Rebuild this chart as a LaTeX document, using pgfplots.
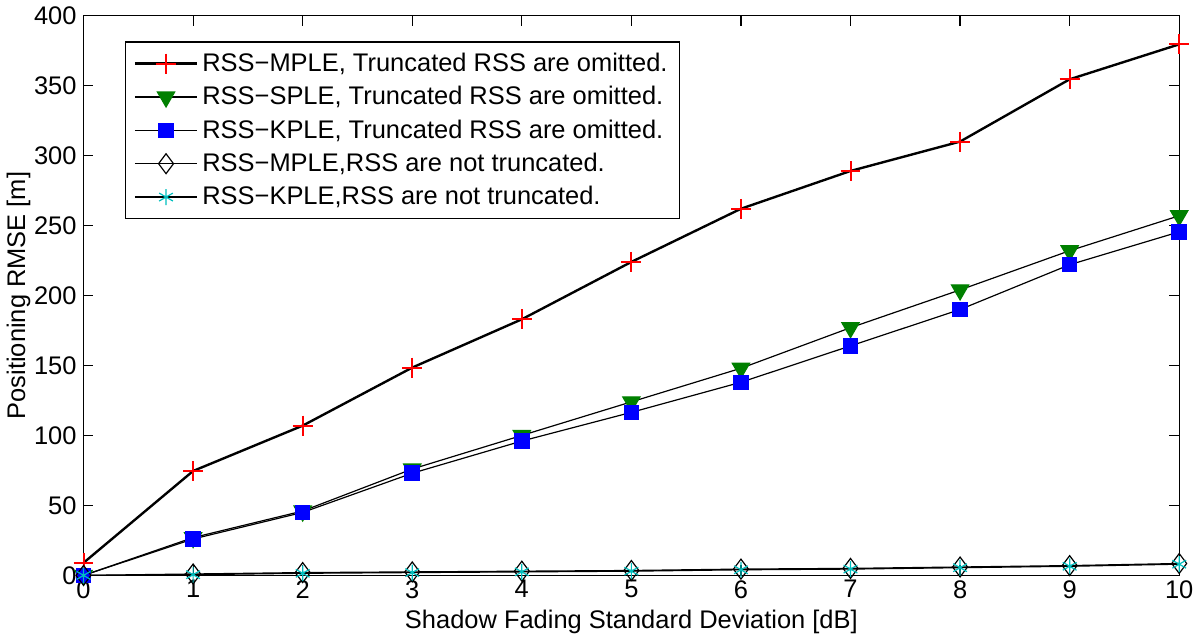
\documentclass[border=0pt]{standalone}
\usepackage{fontspec}
\setmainfont{Liberation Sans}
\usepackage{pgfplots}
\pgfplotsset{compat=1.18}
\definecolor{mred}{rgb}{1,0,0}
\definecolor{mgreen}{rgb}{0,0.5,0}
\definecolor{mblue}{rgb}{0,0,1}
\definecolor{mcyan}{rgb}{0,0.75,0.75}
\pgfplotsset{
  legend image code/.code={
    \draw[mark repeat=2,mark phase=2,#1] plot coordinates {(0cm,0cm) (0.55cm,0cm) (1.1cm,0cm)};
  }
}
\newcommand{\chartfont}{\fontsize{12.8}{15}\selectfont}
\begin{document}
\begin{tikzpicture}
\begin{axis}[
  scale only axis,
  width=551pt, height=281.5pt,
  xmin=0, xmax=10, ymin=0, ymax=400,
  xtick={0,1,...,10},
  ytick={0,50,...,400},
  tick align=inside,
  ticks=both,
  major tick length=5pt,
  tick style={black, line width=0.6pt},
  axis line style={line width=0.6pt},
  /pgf/number format/assume math mode=true,
  tick label style={font=\chartfont},
  label style={font=\chartfont},
  xticklabel style={yshift=1pt},
  xlabel={Shadow Fading Standard Deviation [dB]},
  ylabel={Positioning RMSE [m]},
  xlabel style={yshift=1pt},
  ylabel style={yshift=-5pt},
  legend cell align=left,
  legend style={at={(0.038,0.954)}, anchor=north west, draw=black, line width=0.6pt,
    font=\chartfont, row sep=2pt, inner xsep=4pt, inner ysep=3.5pt},
]
\addplot[black, line width=1.2pt, mark=+, mark size=5pt, mark options={mred, line width=1pt}]
  coordinates {(0,9) (1,74.6) (2,107) (3,148.5) (4,183) (5,224) (6,262) (7,289) (8,310) (9,354.5) (10,379.5)};
\addlegendentry{RSS−MPLE, Truncated RSS are omitted.}
\addplot[black, line width=0.6pt, mark=triangle*, mark size=5pt, mark options={mgreen, fill=mgreen, rotate=180}]
  coordinates {(0,0) (1,27) (2,46) (3,76) (4,100) (5,124) (6,148) (7,177) (8,204) (9,232) (10,257)};
\addlegendentry{RSS−SPLE, Truncated RSS are omitted.}
\addplot[black, line width=0.6pt, mark=square*, mark size=3.6pt, mark options={mblue, fill=mblue}]
  coordinates {(0,0) (1,26) (2,45) (3,73) (4,96) (5,116.5) (6,138) (7,164) (8,190) (9,222) (10,245.5)};
\addlegendentry{RSS−KPLE, Truncated RSS are omitted.}
\addplot[black, line width=0.6pt, mark=diamond, mark size=5pt, mark options={black, fill=white}]
  coordinates {(0,0) (1,1) (2,2) (3,2.5) (4,3) (5,3.5) (6,4.5) (7,5) (8,6) (9,7) (10,8.5)};
\addlegendentry{RSS−MPLE,RSS are not truncated.}
\addplot[black, line width=0.6pt, mark=asterisk, mark size=4pt, mark options={mcyan}]
  coordinates {(0,0) (1,0.5) (2,1.5) (3,2) (4,2.5) (5,3) (6,4) (7,4.5) (8,5.5) (9,6.5) (10,8)};
\addlegendentry{RSS−KPLE,RSS are not truncated.}
\end{axis}
\end{tikzpicture}
\end{document}
